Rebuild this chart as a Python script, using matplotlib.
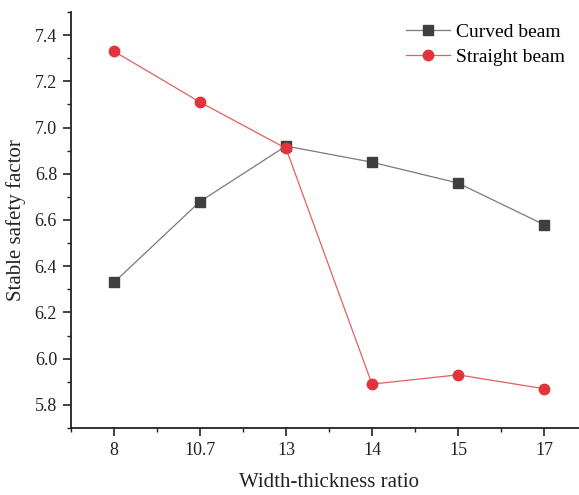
import matplotlib
matplotlib.use("Agg")
import matplotlib.pyplot as plt
from matplotlib.ticker import MultipleLocator

# data
ratios = ["8", "10.7", "13", "14", "15", "17"]
curved = [6.33, 6.68, 6.92, 6.85, 6.76, 6.58]
straight = [7.33, 7.11, 6.91, 5.89, 5.93, 5.87]

plt.rcParams['font.family'] = ['Liberation Serif', 'DejaVu Serif']

fig = plt.figure(figsize=(5.79, 4.95), dpi=100)
# axes runs a bit past the right edge, like the reference crop
ax = fig.add_axes([71/579, 1 - 428/495, (587 - 71)/579, (428 - 12)/495])

x = list(range(len(ratios)))
ax.plot(x, curved, color="#7a7a7a", lw=0.9, marker="s", ms=7,
        mfc="#3f3f3f", mec="#3f3f3f", label="Curved beam")
ax.plot(x, straight, color="#e06060", lw=0.9, marker="o", ms=7.5,
        mfc="#e0353b", mec="#e0353b", label="Straight beam")

ax.set_xlim(-0.5, len(ratios) - 0.5)
ax.set_ylim(5.7, 7.5)
ax.set_xticks(x)
ax.set_xticklabels(ratios)
ax.xaxis.set_minor_locator(MultipleLocator(0.5))
ax.yaxis.set_major_locator(MultipleLocator(0.2))
ax.yaxis.set_minor_locator(MultipleLocator(0.1))

for s in ["top", "right"]:
    ax.spines[s].set_visible(False)
for s in ["left", "bottom"]:
    ax.spines[s].set_linewidth(1.3)
    ax.spines[s].set_color("#222222")

ax.tick_params(which="major", direction="out", length=6, width=1.2,
               labelsize=13, colors="#222222", pad=4)
ax.tick_params(which="minor", direction="out", length=3, width=1.0, colors="#222222")

ax.set_xlabel("Width-thickness ratio", fontsize=15, labelpad=10, color="#222222")
ax.set_ylabel("Stable safety factor", fontsize=15, labelpad=6, color="#222222")

ax.legend(loc="upper left", bbox_to_anchor=((394 - 71)/516, 1.0), frameon=False,
          fontsize=14, handlelength=2.3, handletextpad=0.3, labelspacing=0.35,
          borderaxespad=0.2)

fig.savefig("out.png", dpi=100)
